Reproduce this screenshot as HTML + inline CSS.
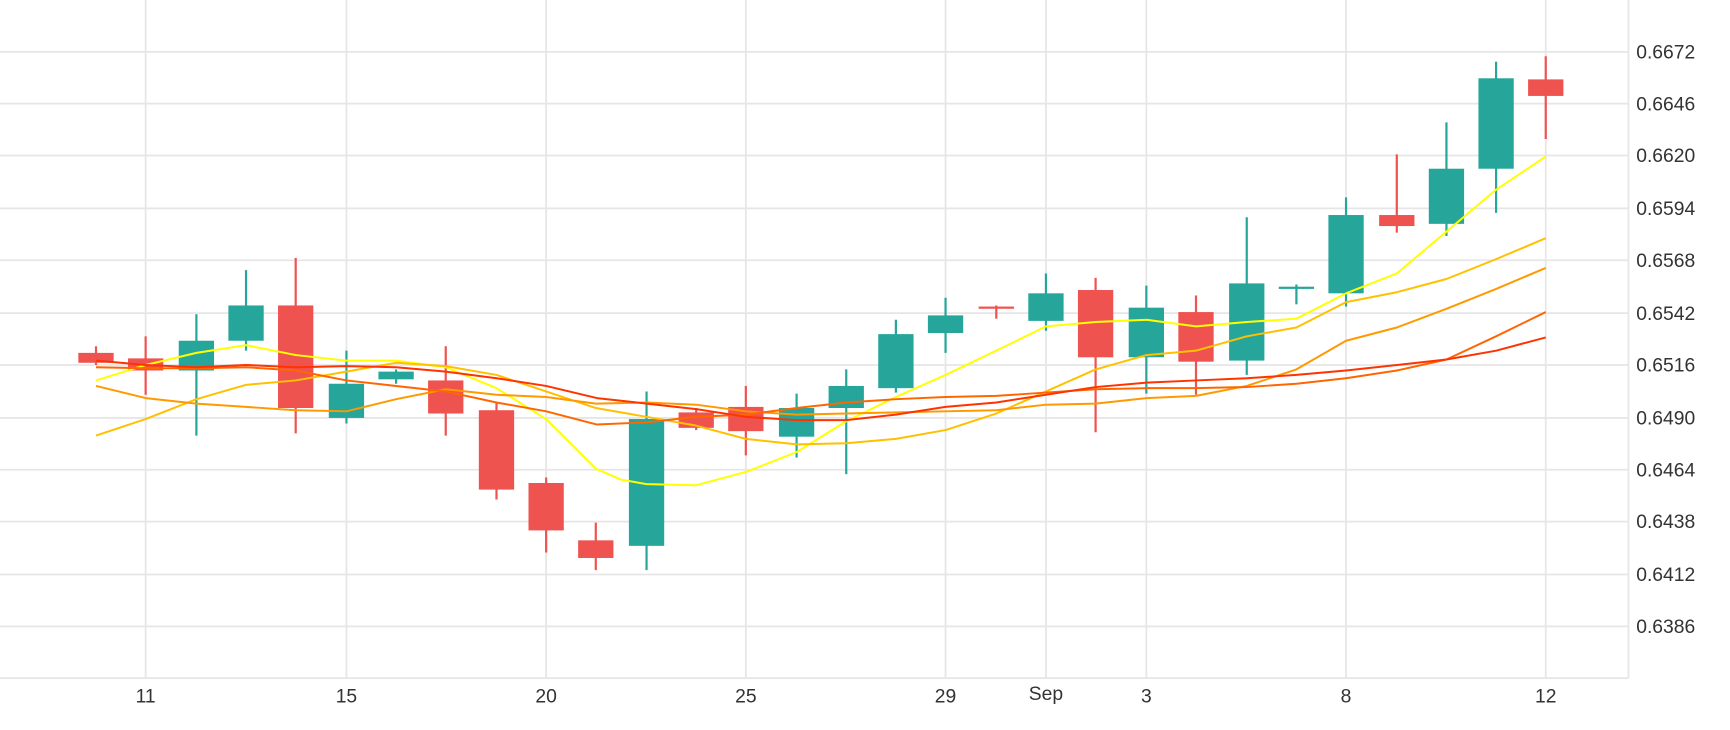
<!DOCTYPE html>
<html><head><meta charset="utf-8"><style>
html,body{margin:0;padding:0;background:#fff;}
svg{display:block;}
text{font-family:"Liberation Sans",sans-serif;fill:#333;}
</style></head><body>
<svg width="1730" height="730" viewBox="0 0 1568 662" preserveAspectRatio="none" xmlns="http://www.w3.org/2000/svg">
<g stroke="#e6e6e6" stroke-width="1.6">
<line x1="0" y1="47" x2="1476" y2="47"/><line x1="0" y1="94" x2="1476" y2="94"/><line x1="0" y1="141" x2="1476" y2="141"/><line x1="0" y1="189" x2="1476" y2="189"/><line x1="0" y1="236" x2="1476" y2="236"/><line x1="0" y1="284" x2="1476" y2="284"/><line x1="0" y1="331" x2="1476" y2="331"/><line x1="0" y1="379" x2="1476" y2="379"/><line x1="0" y1="426" x2="1476" y2="426"/><line x1="0" y1="473" x2="1476" y2="473"/><line x1="0" y1="521" x2="1476" y2="521"/><line x1="0" y1="568" x2="1476" y2="568"/>
<line x1="0" y1="615" x2="1476" y2="615"/>
<line x1="132" y1="0" x2="132" y2="615"/><line x1="314" y1="0" x2="314" y2="615"/><line x1="495" y1="0" x2="495" y2="615"/><line x1="676" y1="0" x2="676" y2="615"/><line x1="857" y1="0" x2="857" y2="615"/><line x1="948" y1="0" x2="948" y2="615"/><line x1="1039" y1="0" x2="1039" y2="615"/><line x1="1220" y1="0" x2="1220" y2="615"/><line x1="1401" y1="0" x2="1401" y2="615"/>
<line x1="1476" y1="0" x2="1476" y2="615"/>
</g>
<g font-size="17.5">
<text x="1483" y="53">0.6672</text><text x="1483" y="100">0.6646</text><text x="1483" y="147">0.6620</text><text x="1483" y="195">0.6594</text><text x="1483" y="242">0.6568</text><text x="1483" y="290">0.6542</text><text x="1483" y="337">0.6516</text><text x="1483" y="385">0.6490</text><text x="1483" y="432">0.6464</text><text x="1483" y="479">0.6438</text><text x="1483" y="527">0.6412</text><text x="1483" y="574">0.6386</text>
</g>
<g font-size="17.5" text-anchor="middle">
<text x="132" y="637">11</text><text x="314" y="637">15</text><text x="495" y="637">20</text><text x="676" y="637">25</text><text x="857" y="637">29</text><text x="948" y="635">Sep</text><text x="1039" y="637">3</text><text x="1220" y="637">8</text><text x="1401" y="637">12</text>
</g>
<g stroke-width="2">
<g stroke="#ef5350">
<line x1="87" y1="314" x2="87" y2="331"/><line x1="132" y1="305" x2="132" y2="358"/><line x1="268" y1="234" x2="268" y2="393"/><line x1="404" y1="314" x2="404" y2="395"/><line x1="450" y1="365" x2="450" y2="453"/><line x1="495" y1="433" x2="495" y2="501"/><line x1="540" y1="474" x2="540" y2="517"/><line x1="631" y1="370" x2="631" y2="390"/><line x1="676" y1="350" x2="676" y2="413"/><line x1="903" y1="277" x2="903" y2="289"/><line x1="993" y1="252" x2="993" y2="392"/><line x1="1084" y1="268" x2="1084" y2="358"/><line x1="1266" y1="140" x2="1266" y2="211"/><line x1="1401" y1="51" x2="1401" y2="126"/>
</g>
<g stroke="#26a69a">
<line x1="178" y1="285" x2="178" y2="395"/><line x1="223" y1="245" x2="223" y2="318"/><line x1="314" y1="318" x2="314" y2="384"/><line x1="359" y1="335" x2="359" y2="348"/><line x1="586" y1="355" x2="586" y2="517"/><line x1="722" y1="357" x2="722" y2="415"/><line x1="767" y1="335" x2="767" y2="430"/><line x1="812" y1="290" x2="812" y2="356"/><line x1="857" y1="270" x2="857" y2="320"/><line x1="948" y1="248" x2="948" y2="300"/><line x1="1039" y1="259" x2="1039" y2="357"/><line x1="1130" y1="197" x2="1130" y2="340"/><line x1="1175" y1="258" x2="1175" y2="276"/><line x1="1220" y1="179" x2="1220" y2="278"/><line x1="1311" y1="111" x2="1311" y2="214"/><line x1="1356" y1="56" x2="1356" y2="193"/>
</g>
</g>
<g fill="#ef5350">
<rect x="71" y="320" width="32" height="9"/><rect x="116" y="325" width="32" height="11"/><rect x="252" y="277" width="32" height="93"/><rect x="388" y="345" width="32" height="30"/><rect x="434" y="372" width="32" height="72"/><rect x="479" y="438" width="32" height="43"/><rect x="524" y="490" width="32" height="16"/><rect x="615" y="374" width="32" height="14"/><rect x="660" y="369" width="32" height="22"/><rect x="887" y="278" width="32" height="2"/><rect x="977" y="263" width="32" height="61"/><rect x="1068" y="283" width="32" height="45"/><rect x="1250" y="195" width="32" height="10"/><rect x="1385" y="72" width="32" height="15"/>
</g>
<g fill="#26a69a">
<rect x="162" y="309" width="32" height="27"/><rect x="207" y="277" width="32" height="32"/><rect x="298" y="348" width="32" height="31"/><rect x="343" y="337" width="32" height="7"/><rect x="570" y="380" width="32" height="115"/><rect x="706" y="370" width="32" height="26"/><rect x="751" y="350" width="32" height="20"/><rect x="796" y="303" width="32" height="49"/><rect x="841" y="286" width="32" height="16"/><rect x="932" y="266" width="32" height="25"/><rect x="1023" y="279" width="32" height="45"/><rect x="1114" y="257" width="32" height="70"/><rect x="1159" y="260" width="32" height="2"/><rect x="1204" y="195" width="32" height="71"/><rect x="1295" y="153" width="32" height="50"/><rect x="1340" y="71" width="32" height="82"/>
</g>
<g fill="none" stroke-width="1.8" stroke-linejoin="round">
<polyline stroke="#ffff00" points="87,345 132,331 178,320 223,313 268,322 314,327 359,327 404,333 450,352 495,380 520,405 540,425 563,435 586,439 631,440 676,428 722,410 767,382 812,360 857,340 903,318 948,296 993,292 1039,290 1084,296 1130,292 1175,289 1220,266 1266,248 1311,210 1356,172 1401,142"/>
<polyline stroke="#ffc000" points="87,395 132,380 178,362 223,349 268,345 314,337 359,329 404,332 450,340 495,355 540,370 586,378 631,386 676,398 722,403 767,402 812,398 857,390 903,375 948,355 993,335 1039,322 1084,318 1130,305 1175,297 1220,274 1266,265 1311,253 1356,235 1401,216"/>
<polyline stroke="#ff9900" points="87,350 132,361 178,366 223,369 268,372 314,373 359,362 404,353 450,358 495,360 540,366 586,365 631,367 676,373 722,376 767,375 812,374 857,373 903,372 948,367 993,366 1039,361 1084,359 1130,350 1175,335 1220,309 1266,297 1311,280 1356,262 1401,243"/>
<polyline stroke="#ff6600" points="87,333 132,334 178,334 223,333 268,336 314,345 359,350 404,355 450,365 495,373 541,385 586,383 631,378 676,376 722,370 767,365 812,362 857,360 903,359 948,356 993,353 1039,352 1084,352 1130,351 1175,348 1220,343 1266,336 1311,326 1356,305 1401,283"/>
<polyline stroke="#ff3300" points="87,327 132,331 178,333 223,331 268,333 314,332 359,333 404,337 450,343 495,350 541,361 586,366 631,371 676,378 722,381 767,381 812,376 857,369 903,365 948,358 993,351 1039,347 1084,345 1130,343 1175,340 1220,336 1266,331 1311,326 1356,318 1401,306"/>
</g>
</svg>
</body></html>
